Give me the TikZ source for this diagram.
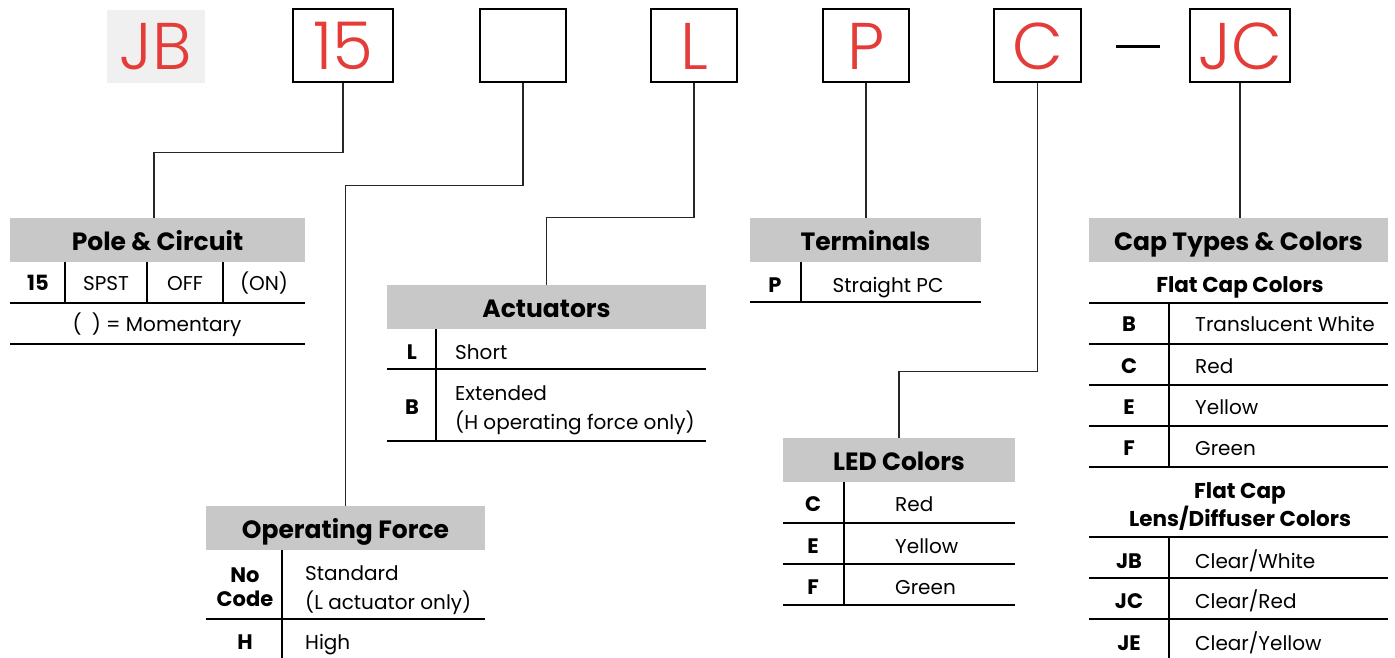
\documentclass[tikz,border=0pt]{standalone}
\usepackage{fontspec}
\setmainfont{Poppins}
\newfontfamily\thinfont{Poppins Light}
\definecolor{codered}{RGB}{228,60,56}
\definecolor{hdrgray}{RGB}{200,200,200}
\definecolor{jbgray}{RGB}{240,240,240}
\begin{document}
\begin{tikzpicture}[x=1pt,y=-1pt,
  hdr/.style={fill=hdrgray, inner sep=0pt, minimum height=44pt, text height=20pt, text depth=0pt, font=\fontsize{25}{29}\selectfont\bfseries},
  cell/.style={inner sep=0pt, anchor=base, font=\fontsize{20}{24}\selectfont},
  lcell/.style={cell, anchor=base west},
  key/.style={cell, font=\fontsize{21}{25}\selectfont\bfseries},
  sub/.style={cell, font=\fontsize{21.5}{25}\selectfont\bfseries},
  code/.style={draw=black, line width=2pt, minimum width=#1, minimum height=73pt, inner sep=0pt, font=\thinfont\fontsize{66}{68}\selectfont, text=codered},
  conn/.style={line width=1.2pt, draw=black!85},
  rule/.style={line width=1.2pt, draw=black}]
\useasboundingbox (0,0) rectangle (1395,658);

% top code boxes
\node[fill=jbgray, minimum width=98pt, minimum height=73pt, inner sep=0pt, text=codered, font=\thinfont\fontsize{66}{68}\selectfont] (jb) at (156,46.5) {JB};
\node[code=100pt] (b15) at (343,46) {15};
\node[code=86pt] (bx) at (523,46) {};
\node[code=86pt] (bl) at (694,46) {L};
\node[code=86pt] (bp) at (866,46) {P};
\node[code=87pt] (bc) at (1037.5,46) {C};
\coordinate (dashL) at (1116,47);
\coordinate (dashR) at (1160,47);
\draw[line width=3pt] (dashL) -- (dashR);
\node[code=100pt] (bjc) at (1240,46) {JC};

% headers
\node[hdr, minimum width=295pt] (pole) at (157.5,240) {Pole \& Circuit};
\node[hdr, minimum width=319pt] (act) at (546.5,307) {Actuators};
\node[hdr, minimum width=279pt] (opf) at (345.5,528) {Operating Force};
\node[hdr, minimum width=231pt] (term) at (865.5,240) {Terminals};
\node[hdr, minimum width=232pt] (led) at (899,460) {LED Colors};
\node[hdr, minimum width=299pt] (cap) at (1238.5,240) {Cap Types \& Colors};

% connectors
\draw[conn] (b15.south) -- ++(0,69) -| ([xshift=-3.5pt]pole.north);
\draw[conn] (bx.south) -- ++(0,102) -| (opf.north);
\draw[conn] (bl.south) -- ++(0,134) -| (act.north);
\draw[conn] (bp.south) -- (bp.south |- term.north);
\draw[conn] (bc.south) -- ++(0,288) -| (led.north);
\draw[conn] (bjc.south) -- (bjc.south |- cap.north);

% Pole & Circuit table
\node[key] (p15) at (38,290) {15};
\node[cell] (pspst) at (106,290) {SPST};
\node[cell] (poff) at (185,290) {OFF};
\node[cell] (pon) at (264,290) {(ON)};
\draw[rule] (65,262) -- (65,303) (147,262) -- (147,303) (223,262) -- (223,303);
\draw[rule] (10,303) -- (305,303);
\node[cell] (pmom) at (157,331.5) {(\hspace{0.5em}) = Momentary};
\draw[rule] (10,344) -- (305,344);

% Actuators table
\draw[rule] (436,329) -- (436,441);
\node[key] (al) at (412,359.5) {L};
\node[lcell] (ashort) at (455,359.5) {Short};
\draw[rule] (387,369) -- (706,369);
\node[key] (ab) at (412,414.5) {B};
\node[lcell] (aext) at (455,400.5) {Extended};
\node[lcell] (aext2) at (455,429.5) {(H operating force only)};
\draw[rule] (387,441) -- (706,441);

% Operating Force table
\draw[rule] (282,550) -- (282,658);
\node[key] (onc1) at (245,582.5) {No};
\node[key] (onc2) at (245,606.5) {Code};
\node[lcell] (ostd) at (305,580) {Standard};
\node[lcell] (ostd2) at (305,609) {(L actuator only)};
\draw[rule] (206,619) -- (485,619);
\node[key] (oh) at (245,649) {H};
\node[lcell] (ohigh) at (305,649) {High};

% Terminals table
\draw[rule] (801,262) -- (801,302);
\node[key] (tp) at (775,292) {P};
\node[cell] (tsp) at (888,292) {Straight PC};
\draw[rule] (750,302) -- (981,302);

% LED table
\draw[rule] (844,482) -- (844,605);
\node[key] (lc) at (813,511) {C};
\node[lcell] (lred) at (895,511) {Red};
\draw[rule] (783,523) -- (1015,523);
\node[key] (le) at (813,553) {E};
\node[lcell] (lyel) at (895,553) {Yellow};
\draw[rule] (783,564) -- (1015,564);
\node[key] (lf) at (813,594) {F};
\node[lcell] (lgrn) at (895,594) {Green};
\draw[rule] (783,605) -- (1015,605);

% Cap table
\node[sub] (cflat) at (1240,292) {Flat Cap Colors};
\draw[rule] (1089,303) -- (1388,303);
\draw[rule] (1169,303) -- (1169,467);
\node[key] (cb) at (1129,331) {B};
\node[lcell] (ctw) at (1195,331) {Translucent White};
\draw[rule] (1089,344) -- (1388,344);
\node[key] (cc) at (1129,373) {C};
\node[lcell] (cred) at (1195,373) {Red};
\draw[rule] (1089,385) -- (1388,385);
\node[key] (ce) at (1129,414) {E};
\node[lcell] (cyel) at (1195,414) {Yellow};
\draw[rule] (1089,426) -- (1388,426);
\node[key] (cf) at (1129,455) {F};
\node[lcell] (cgrn) at (1195,455) {Green};
\draw[rule] (1089,467) -- (1388,467);
\node[sub] (clens1) at (1240,498) {Flat Cap};
\node[sub] (clens2) at (1240,526) {Lens/Diffuser Colors};
\draw[rule] (1089,537) -- (1388,537);
\draw[rule] (1169,537) -- (1169,658);
\node[key] (cjb) at (1129,568) {JB};
\node[lcell] (ccw) at (1195,568) {Clear/White};
\draw[rule] (1089,578) -- (1388,578);
\node[key] (cjc) at (1129,608.5) {JC};
\node[lcell] (ccr) at (1195,608.5) {Clear/Red};
\draw[rule] (1089,619) -- (1388,619);
\node[key] (cje) at (1129,650) {JE};
\node[lcell] (ccy) at (1195,650) {Clear/Yellow};
\end{tikzpicture}
\end{document}
